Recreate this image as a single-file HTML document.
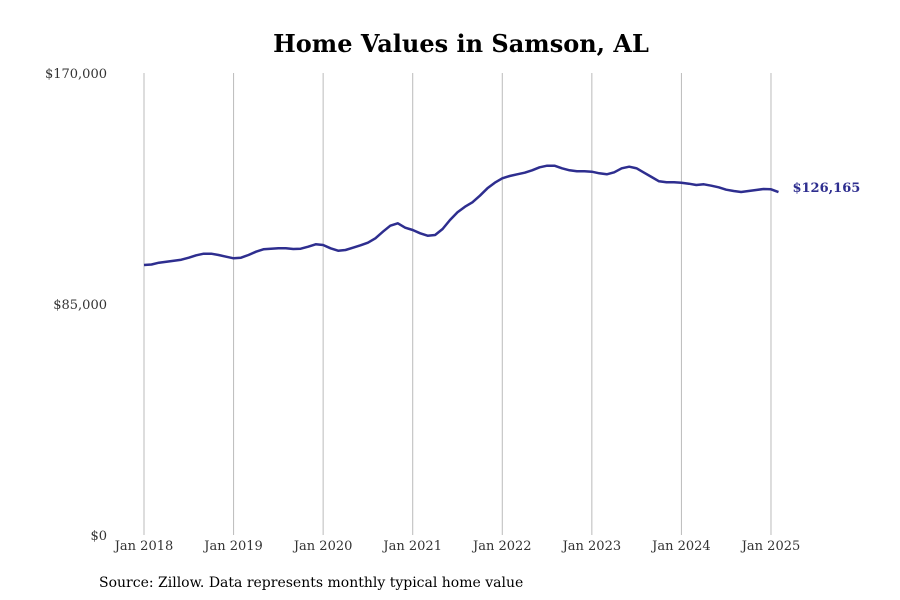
<!DOCTYPE html>
<html><head><meta charset="utf-8"><style>
body{margin:0;background:#fff;}
svg{display:block;font-family:"DejaVu Serif","Liberation Serif",serif;}
</style></head><body>
<svg id="chart" width="900" height="600">
<text x="461" y="52" text-anchor="middle" font-size="24" font-weight="bold" fill="#000">Home Values in Samson, AL</text>
<g id="grid"></g>
<g id="yaxis"></g>
<g id="xaxis"></g>
<path id="line" fill="none" stroke="#2e2e8f" stroke-width="2.5" stroke-linejoin="round"></path>
<text id="endlabel" font-size="13" font-weight="bold" fill="#2e2e8f"></text>
<text x="99" y="587" font-size="14" fill="#000">Source: Zillow. Data represents monthly typical home value</text>
</svg>
<script>
const yTicks=[0,85000,170000];
const yTickLabels=["$0","$85,000","$170,000"];
const xTickLabels=["Jan 2018","Jan 2019","Jan 2020","Jan 2021","Jan 2022","Jan 2023","Jan 2024","Jan 2025"];
const values=[99350,99534,100196,100565,100933,101301,102037,102920,103509,103509,103032,102405,
101815,102037,103032,104249,105128,105349,105497,105497,105239,105349,106085,106968,
106711,105497,104615,104871,105717,106600,107560,109176,111605,113813,114696,113077,
112231,111016,110135,110391,112599,115911,118745,120805,122424,124853,127576,129636,
131255,132101,132727,133316,134198,135302,135891,135891,134934,134198,133831,133831,
133684,133095,132727,133463,134934,135523,134934,133316,131733,130151,129783,129783,
129636,129268,128790,129047,128532,127944,127060,126582,126214,126582,126950,127318,
127207,126165];
const ns="http://www.w3.org/2000/svg";
const x0=144,monthW=89.57/12,yTop=73,yBot=535,yMax=170000;
const X=i=>x0+i*monthW;
const Y=v=>yBot-(v/yMax)*(yBot-yTop);
const grid=document.getElementById('grid'),xa=document.getElementById('xaxis'),ya=document.getElementById('yaxis');
xTickLabels.forEach((t,k)=>{
 const x=X(k*12);
 const l=document.createElementNS(ns,'line');
 l.setAttribute('x1',x);l.setAttribute('x2',x);l.setAttribute('y1',yTop);l.setAttribute('y2',yBot);
 l.setAttribute('stroke','#bbb');l.setAttribute('stroke-width','1');
 
 
 grid.appendChild(l);
 const tx=document.createElementNS(ns,'text');
 tx.setAttribute('x',x);tx.setAttribute('y',550);tx.setAttribute('text-anchor','middle');
 tx.setAttribute('font-size','13');tx.setAttribute('fill','#333');tx.textContent=t;
 
 
 xa.appendChild(tx);
});
yTicks.forEach((v,k)=>{
 const tx=document.createElementNS(ns,'text');
 tx.setAttribute('x',107);tx.setAttribute('y',Y(v)+5);tx.setAttribute('text-anchor','end');
 tx.setAttribute('font-size','13');tx.setAttribute('fill','#333');tx.textContent=yTickLabels[k];
 
 
 ya.appendChild(tx);
});
document.getElementById('line').setAttribute('d',values.map((v,i)=>(i?'L':'M')+X(i).toFixed(1)+','+Y(v).toFixed(1)).join(''));
const last=values.length-1,el=document.getElementById('endlabel');
el.setAttribute('x',X(last)+14);el.setAttribute('y',Y(values[last])+0);
el.textContent='$'+values[last].toLocaleString('en-US');
</script>
</body></html>
